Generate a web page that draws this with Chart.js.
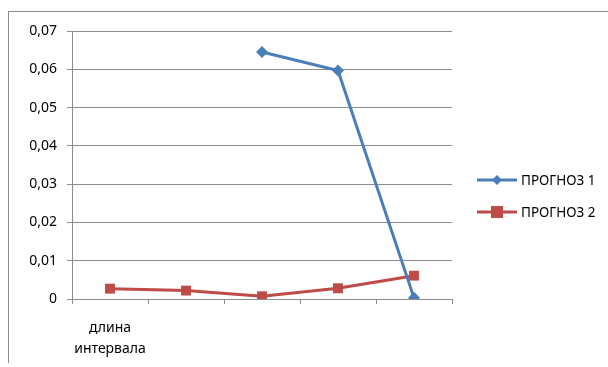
<!DOCTYPE html>
<html>
<head>
<meta charset="utf-8">
<script src="https://cdn.jsdelivr.net/npm/chart.js"></script>
<style>
  body { margin: 0; background: #fff; }
  #wrap { position: relative; width: 608px; height: 367px; overflow: hidden; }
  #frame { position: absolute; left: 8px; top: 11px; width: 700px; height: 351px;
           border-left: 1px solid #8c8c8c; border-top: 1px solid #8c8c8c; }
  #chart { position: absolute; left: 0; top: 0; }
  #legend { position: absolute; left: 477px; top: 164px; font: 13.5px "Noto Sans", sans-serif; color: #000; }
  .item { display: flex; align-items: center; height: 32px; }
  .item canvas { margin-right: 4px; }
</style>
</head>
<body>
<div id="wrap">
  <div id="frame"></div>
  <canvas id="chart" width="608" height="367"></canvas>
  <div id="legend"></div>
</div>
<script>
const categories = [['длина', 'интервала'], '', '', '', ''];
const prognoz1 = [null, null, 0.0645, 0.0597, 0.0003];
const prognoz2 = [0.0027, 0.0022, 0.0007, 0.0028, 0.0061];
const seriesNames = ['ПРОГНОЗ 1', 'ПРОГНОЗ 2'];
const colors = ['#4a7ebb', '#be4b48'];
const markers = ['rectRot', 'rect'];

const font = { family: '"Noto Sans", sans-serif', size: 14, lineHeight: 1.5 };

const datasets = [prognoz1, prognoz2].map((d, i) => ({
  label: seriesNames[i],
  data: d,
  borderColor: colors[i],
  backgroundColor: colors[i],
  borderWidth: 3,
  pointStyle: markers[i],
  pointRadius: i === 0 ? 6 : 7,
  pointBorderWidth: 0,
  tension: 0,
  spanGaps: false
}));

new Chart(document.getElementById('chart'), {
  type: 'line',
  data: { labels: categories, datasets: datasets },
  options: {
    responsive: false,
    animation: false,
    layout: { padding: { left: 0, top: 31, right: 156, bottom: 0 } },
    plugins: { legend: { display: false }, tooltip: { enabled: false } },
    scales: {
      x: {
        offset: true,
        grid: { drawOnChartArea: false, tickLength: 5, color: '#8c8c8c', offset: true },
        border: { color: '#8c8c8c' },
        ticks: { font: font, color: '#000', padding: 14, maxRotation: 0, autoSkip: false },
        afterFit: s => { s.height = 68; }
      },
      y: {
        min: 0, max: 0.07,
        grid: { color: '#8c8c8c', tickLength: 5 },
        border: { color: '#8c8c8c' },
        ticks: {
          stepSize: 0.01, font: { family: font.family, size: 14 }, color: '#000', padding: 10,
          callback: v => v === 0 ? '0' : v.toFixed(2).replace('.', ',')
        },
        afterFit: s => { s.width = 72; }
      }
    }
  }
});

// legend: line with marker, then the series name
const legend = document.getElementById('legend');
seriesNames.forEach((name, i) => {
  const row = document.createElement('div');
  row.className = 'item';
  const c = document.createElement('canvas');
  c.width = 40; c.height = 16;
  const g = c.getContext('2d');
  g.strokeStyle = colors[i]; g.fillStyle = colors[i]; g.lineWidth = 3;
  g.beginPath(); g.moveTo(0, 8); g.lineTo(40, 8); g.stroke();
  if (markers[i] === 'rect') { g.fillRect(14, 2, 12, 12); }
  else { g.beginPath(); g.moveTo(20, 3); g.lineTo(25, 8); g.lineTo(20, 13); g.lineTo(15, 8); g.closePath(); g.fill(); }
  const t = document.createElement('span');
  t.textContent = name;
  row.appendChild(c); row.appendChild(t);
  legend.appendChild(row);
});
</script>
</body>
</html>
